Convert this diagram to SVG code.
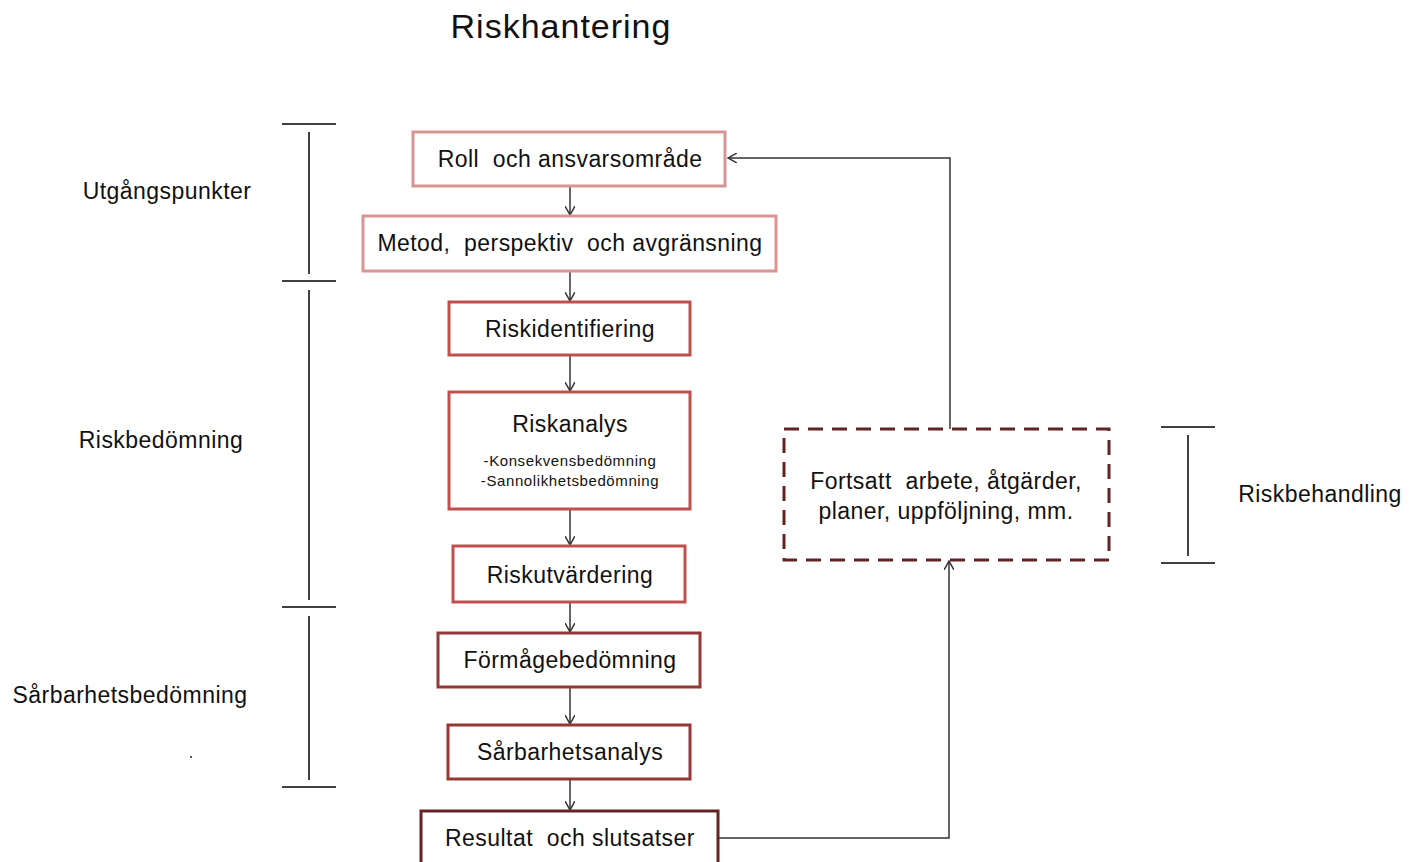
<svg xmlns="http://www.w3.org/2000/svg" width="1417" height="862" viewBox="0 0 1417 862">
<defs>
<style>
text{font-family:"Liberation Sans",Arial,sans-serif;fill:#111;white-space:pre;}
.t{font-size:23px;text-anchor:middle;letter-spacing:0.45px;}
.s{font-size:15px;text-anchor:middle;letter-spacing:0.6px;}
.l{font-size:23px;text-anchor:middle;letter-spacing:0.45px;}
.box{fill:#fff;stroke-width:3;}
.c1{stroke:#d99594;}
.c2{stroke:#c0504d;}
.c3{stroke:#953735;}
.c4{stroke:#632523;}
.br{stroke:#404040;stroke-width:2;fill:none;}
.cn{stroke:#333;stroke-width:1.5;fill:none;}
</style>
<marker id="ar" viewBox="0 0 10 10" refX="9" refY="5" markerWidth="10" markerHeight="10" markerUnits="userSpaceOnUse" orient="auto">
<path d="M0,0 L9,5 L0,10" fill="none" stroke="#333" stroke-width="1.5"/>
</marker>
</defs>
<rect width="1417" height="862" fill="#fff"/>
<text x="561" y="38" style="font-size:34px;text-anchor:middle;letter-spacing:1px">Riskhantering</text>

<g id="brackets">
<line class="br" x1="282" y1="124" x2="336" y2="124"/>
<line class="br" x1="309" y1="132" x2="309" y2="274"/>
<line class="br" x1="282" y1="281" x2="336" y2="281"/>
<line class="br" x1="309" y1="290" x2="309" y2="600"/>
<line class="br" x1="282" y1="607" x2="336" y2="607"/>
<line class="br" x1="309" y1="616" x2="309" y2="780"/>
<line class="br" x1="282" y1="787" x2="336" y2="787"/>
<line class="br" x1="1161" y1="427" x2="1215" y2="427"/>
<line class="br" x1="1188" y1="435" x2="1188" y2="556"/>
<line class="br" x1="1161" y1="563" x2="1215" y2="563"/>
<rect x="190" y="756" width="2" height="2" fill="#555"/>
</g>

<g id="labels">
<text class="l" x="167" y="199">Utgångspunkter</text>
<text class="l" x="161" y="448">Riskbedömning</text>
<text class="l" x="130" y="703">Sårbarhetsbedömning</text>
<text class="l" x="1320" y="502">Riskbehandling</text>
</g>

<g id="connectors">
<line class="cn" x1="570" y1="186" x2="570" y2="215" marker-end="url(#ar)"/>
<line class="cn" x1="570" y1="271" x2="570" y2="301" marker-end="url(#ar)"/>
<line class="cn" x1="570" y1="355" x2="570" y2="391" marker-end="url(#ar)"/>
<line class="cn" x1="570" y1="509" x2="570" y2="545" marker-end="url(#ar)"/>
<line class="cn" x1="570" y1="602" x2="570" y2="632" marker-end="url(#ar)"/>
<line class="cn" x1="570" y1="687" x2="570" y2="724" marker-end="url(#ar)"/>
<line class="cn" x1="570" y1="779" x2="570" y2="810" marker-end="url(#ar)"/>
<polyline class="cn" points="718,838 949,838 949,561" marker-end="url(#ar)"/>
<polyline class="cn" points="950,429 950,158 728,158" marker-end="url(#ar)"/>
</g>

<g id="n1"><rect class="box c1" x="413" y="132" width="312" height="54"/><text class="t" x="570" y="167">Roll  och ansvarsområde</text></g>
<g id="n2"><rect class="box c1" x="363" y="216" width="413" height="55"/><text class="t" x="570" y="251">Metod,  perspektiv  och avgränsning</text></g>
<g id="n3"><rect class="box c2" x="449" y="302" width="241" height="53"/><text class="t" x="570" y="337">Riskidentifiering</text></g>
<g id="n4"><rect class="box c2" x="449" y="392" width="241" height="117"/><text class="t" x="570" y="432">Riskanalys</text><text class="s" x="570" y="466">-Konsekvensbedömning</text><text class="s" x="570" y="486">-Sannolikhetsbedömning</text></g>
<g id="n5"><rect class="box c2" x="453" y="546" width="232" height="56"/><text class="t" x="570" y="583">Riskutvärdering</text></g>
<g id="n6"><rect class="box c3" x="438" y="633" width="262" height="54"/><text class="t" x="570" y="668">Förmågebedömning</text></g>
<g id="n7"><rect class="box c3" x="448" y="725" width="242" height="54"/><text class="t" x="570" y="760">Sårbarhetsanalys</text></g>
<g id="n8"><rect class="box c4" x="421" y="811" width="297" height="60"/><text class="t" x="570" y="846">Resultat  och slutsatser</text></g>
<g id="n9"><rect x="784" y="429" width="325" height="131" fill="#fff" stroke="#632523" stroke-width="3" stroke-dasharray="15,9"/><text class="t" x="946" y="489">Fortsatt  arbete, åtgärder,</text><text class="t" x="946" y="519">planer, uppföljning, mm.</text></g>
</svg>
